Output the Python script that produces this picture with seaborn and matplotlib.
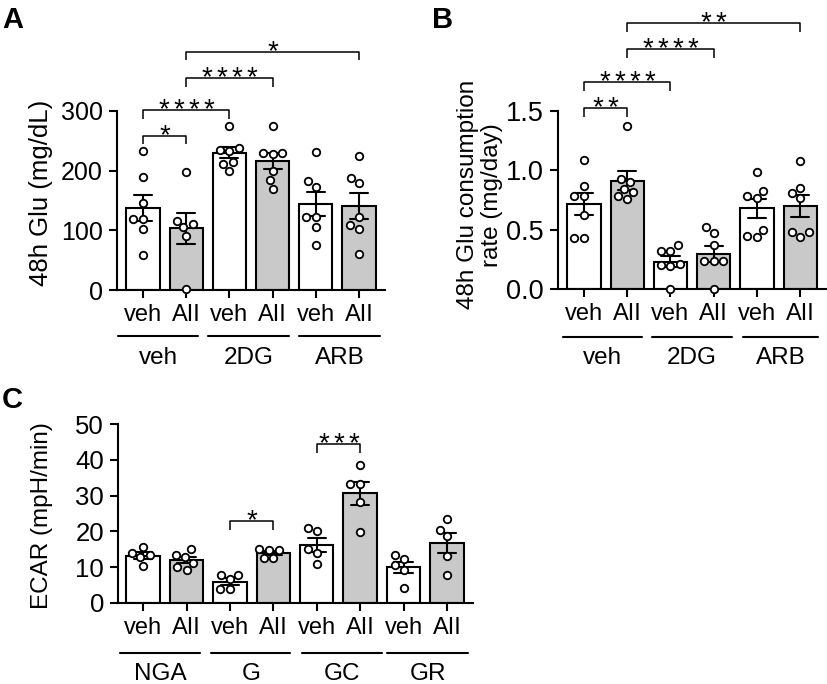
import numpy as np
import pandas as pd
import matplotlib
matplotlib.use("Agg")
import matplotlib.pyplot as plt
import seaborn as sns

# ---------------- data ----------------
treatments = ["veh", "AII"]

# Panel A: 48h Glu (mg/dL)
A_groups = ["veh", "2DG", "ARB"]
A_veh_veh = [233, 189, 146, 119, 119, 102, 58]
A_veh_AII = [198, 116, 110, 105, 90, 1]
A_2DG_veh = [275, 238, 235, 233, 215, 212, 200]
A_2DG_AII = [275, 230, 229, 228, 200, 184, 169]
A_ARB_veh = [231, 183, 173, 123, 123, 106, 75]
A_ARB_AII = [225, 188, 180, 123, 109, 102, 60]
A_yticks = [0, 100, 200, 300]

# Panel B: 48h Glu consumption rate (mg/day)
B_groups = ["veh", "2DG", "ARB"]
B_veh_veh = [1.087, 0.868, 0.784, 0.784, 0.624, 0.427, 0.427]
B_veh_AII = [1.37, 0.93, 0.90, 0.84, 0.82, 0.78, 0.76]
B_2DG_veh = [0.37, 0.32, 0.32, 0.21, 0.20, 0.19, 0.0]
B_2DG_AII = [0.525, 0.475, 0.371, 0.24, 0.24, 0.235, 0.0]
B_ARB_veh = [0.99, 0.83, 0.78, 0.77, 0.50, 0.45, 0.44]
B_ARB_AII = [1.08, 0.85, 0.81, 0.77, 0.48, 0.48, 0.44]
B_yticks = [0.0, 0.5, 1.0, 1.5]

# Panel C: ECAR (mpH/min)
C_groups = ["NGA", "G", "GC", "GR"]
C_NGA_veh = [15.7, 14.0, 13.5, 12.8, 10.3]
C_NGA_AII = [15.0, 13.3, 12.9, 11.2, 10.0, 9.2]
C_G_veh = [7.9, 7.8, 6.6, 3.9, 3.8]
C_G_AII = [15.0, 14.9, 14.8, 12.6, 12.5]
C_GC_veh = [21.0, 20.1, 15.2, 14.0, 11.0]
C_GC_AII = [38.5, 33.2, 33.2, 28.3, 19.9]
C_GR_veh = [13.4, 12.4, 10.6, 9.3, 4.3]
C_GR_AII = [23.6, 20.4, 18.7, 13.1, 7.8]
C_yticks = [0, 10, 20, 30, 40, 50]

# significance comparisons (bar index pairs and labels)
A_sig_pairs = [(0, 1), (0, 2), (1, 3), (1, 5)]
A_sig_labels = ["*", "****", "****", "*"]
B_sig_pairs = [(0, 1), (0, 2), (1, 3), (1, 5)]
B_sig_labels = ["**", "****", "****", "**"]
C_sig_pairs = [(2, 3), (4, 5)]
C_sig_labels = ["*", "***"]

# ---------------- style ----------------
sns.set_style("ticks")
plt.rcParams["font.family"] = ["Liberation Sans", "DejaVu Sans"]
plt.rcParams["text.color"] = "black"
plt.rcParams["axes.labelcolor"] = "black"
plt.rcParams["axes.linewidth"] = 1.5
plt.rcParams["xtick.major.width"] = 1.5
plt.rcParams["ytick.major.width"] = 1.5
plt.rcParams["xtick.major.size"] = 6
plt.rcParams["ytick.major.size"] = 6
plt.rcParams["xtick.color"] = "black"
plt.rcParams["ytick.color"] = "black"
plt.rcParams["axes.edgecolor"] = "black"

XT_FS = 17      # veh / AII tick labels
YT_FS = 18      # numeric tick labels
GRP_FS = 17.5   # group labels
STAR_FS = 20
palette = {"veh": "white", "AII": "#c9c9c9"}

W, H = 827, 684
fig = plt.figure(figsize=(W / 100, H / 100), dpi=100)


def px_axes(left, top, right, bottom):
    return fig.add_axes([left / W, 1 - bottom / H, (right - left) / W, (bottom - top) / H])


def make_df(groups, series):
    rows = []
    keys = []
    for g, pair in zip(groups, series):
        for t, vals in zip(treatments, pair):
            key = f"{g}|{t}"
            keys.append(key)
            for v in vals:
                rows.append({"bar": key, "treat": t, "value": v})
    return pd.DataFrame(rows), keys


def draw_panel(ax, df, keys, xlim, ylim, yticks, ytick_fmt, ytfs):
    sns.barplot(data=df, x="bar", y="value", hue="treat", order=keys,
                hue_order=treatments, palette=palette, dodge=False,
                errorbar="se", capsize=0.42, width=0.77,
                edgecolor="black", linewidth=1.5,
                err_kws={"color": "black", "linewidth": 1.5},
                legend=False, ax=ax)
    sns.swarmplot(data=df, x="bar", y="value", order=keys, color="white",
                  edgecolor="black", linewidth=1.3, size=5.4, ax=ax, zorder=5)
    for coll in ax.collections:
        coll.set_clip_on(False)
    ax.set_xlim(*xlim)
    ax.set_ylim(*ylim)
    ax.set_yticks(yticks)
    ax.set_yticklabels([ytick_fmt(v) for v in yticks], fontsize=ytfs)
    ax.set_xticks(range(len(keys)))
    ax.set_xticklabels([k.split("|")[1] for k in keys], fontsize=XT_FS)
    ax.tick_params(axis="x", pad=4)
    ax.tick_params(axis="y", pad=4)
    ax.set_xlabel("")
    sns.despine(ax=ax)


def brackets(ax, pairs, labels, tops, drop):
    for (i, j), lab, y in zip(pairs, labels, tops):
        ax.plot([i, i, j, j], [y - drop, y, y, y - drop], color="black",
                lw=1.1, clip_on=False, solid_capstyle="butt")
        n = len(lab)
        for k in range(n):
            dx = (k - (n - 1) / 2) * 10.8
            ax.annotate("*", xy=((i + j) / 2, y), xytext=(dx, -5.0),
                        textcoords="offset points", ha="center", va="baseline",
                        fontsize=STAR_FS, annotation_clip=False)


def group_lines(ax, spans, names, yline, ytext):
    tr = ax.get_xaxis_transform()
    for (x0, x1), name in zip(spans, names):
        ax.plot([x0, x1], [yline, yline], color="black", lw=1.5,
                transform=tr, clip_on=False)
        ax.text((x0 + x1) / 2, ytext, name, transform=tr, ha="center",
                va="center", fontsize=GRP_FS)


# ---------------- Panel A ----------------
axA = px_axes(117, 111, 385, 290)
dfA, keysA = make_df(A_groups, [(A_veh_veh, A_veh_AII), (A_2DG_veh, A_2DG_AII),
                                (A_ARB_veh, A_ARB_AII)])
draw_panel(axA, dfA, keysA, (-0.6, 5.6), (0, 300), A_yticks, lambda v: f"{v:d}", 18)
axA.set_ylabel("48h Glu (mg/dL)", fontsize=18.5)
axA.yaxis.set_label_coords(-0.24, 0.54)
brackets(axA, A_sig_pairs, A_sig_labels, [258, 301, 355, 399], 14)
group_lines(axA, [(-0.58, 1.28), (1.51, 3.37), (3.6, 5.49)], A_groups, -0.257, -0.38)

# ---------------- Panel B ----------------
axB = px_axes(558, 111, 827, 289)
dfB, keysB = make_df(B_groups, [(B_veh_veh, B_veh_AII), (B_2DG_veh, B_2DG_AII),
                                (B_ARB_veh, B_ARB_AII)])
draw_panel(axB, dfB, keysB, (-0.6, 5.62), (0, 1.5), B_yticks, lambda v: f"{v:.1f}", 19.5)
axB.set_ylabel("48h Glu consumption\nrate (mg/day)", fontsize=17.5,
               multialignment="center", linespacing=1.1)
axB.yaxis.set_label_coords(-0.205, 0.53)
brackets(axB, B_sig_pairs, B_sig_labels, [1.525, 1.744, 2.02, 2.24], 0.076)
group_lines(axB, [(-0.49, 1.34), (1.57, 3.43), (3.68, 5.42)], B_groups, -0.27, -0.39)

# ---------------- Panel C ----------------
axC = px_axes(118, 424, 473, 603)
dfC, keysC = make_df(C_groups, [(C_NGA_veh, C_NGA_AII), (C_G_veh, C_G_AII),
                                (C_GC_veh, C_GC_AII), (C_GR_veh, C_GR_AII)])
draw_panel(axC, dfC, keysC, (-0.58, 7.6), (0, 50), C_yticks, lambda v: f"{v:d}", 18.5)
axC.set_ylabel("ECAR (mpH/min)", fontsize=17.5)
axC.yaxis.set_label_coords(-0.183, 0.49)
brackets(axC, C_sig_pairs, C_sig_labels, [22.9, 44.4], 2.5)
group_lines(axC, [(-0.53, 1.31), (1.57, 3.39), (3.66, 5.51), (5.62, 7.49)],
            C_groups, -0.279, -0.397)

# ---------------- panel letters ----------------
for lab, x, y in [("A", 2, 28), ("B", 432, 28), ("C", 2, 408)]:
    fig.text(x / W, 1 - y / H, lab, fontsize=21, fontweight="bold",
             ha="left", va="baseline")

fig.savefig("out.png", dpi=100)
